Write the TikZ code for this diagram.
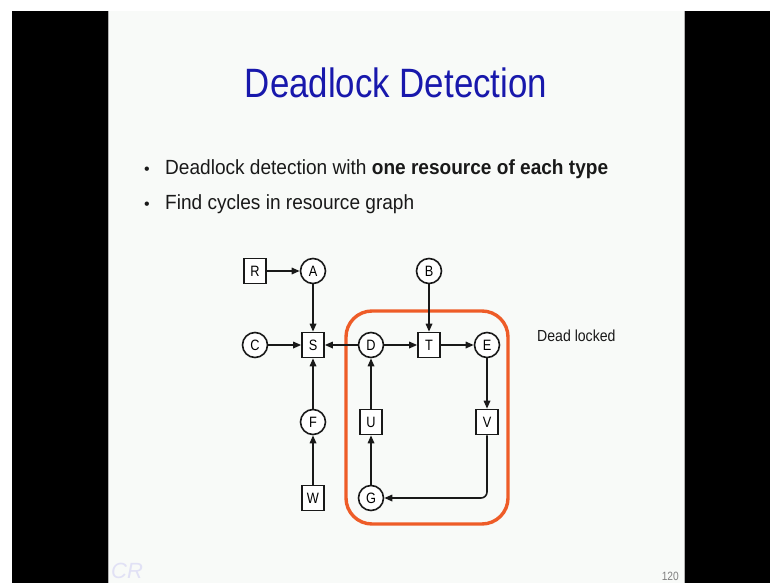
\documentclass[tikz,border=0pt]{standalone}
\usepackage{fontspec}
\setmainfont{Liberation Sans}
\usetikzlibrary{arrows.meta}
\definecolor{slidebg}{RGB}{248,250,248}
\definecolor{titleblue}{RGB}{24,24,172}
\definecolor{boxorange}{RGB}{238,92,40}
\definecolor{txt}{RGB}{25,25,25}
\definecolor{logoc}{RGB}{225,225,245}
\newcommand\lbl[1]{\scalebox{0.85}[1]{\fontsize{15}{15}\selectfont #1}}
\tikzset{
  circ/.style={circle, draw=txt, line width=1.6pt, minimum size=25pt, inner sep=0pt, fill=white},
  sqr/.style={rectangle, draw=txt, line width=1.6pt, minimum width=22pt, minimum height=25pt, inner sep=0pt, fill=white},
  edge/.style={draw=txt, line width=1.6pt, -{Triangle[length=8pt,width=6.5pt]}},
}
\begin{document}
\begin{tikzpicture}[x=1pt,y=-1pt]
\useasboundingbox (0,0) rectangle (770,583);
\fill[white] (0,0) rectangle (770,583);
\fill[black] (12,11) rectangle (108,583);
\fill[black] (685,11) rectangle (770,583);
\fill[slidebg] (108,11) rectangle (685,583);
\draw[gray!60, line width=0.8pt] (108.5,11) -- (108.5,583);
\draw[gray!60, line width=0.8pt] (684.5,11) -- (684.5,583);

% title
\node[anchor=base, text=titleblue, inner sep=0] (title) at (396,98) {\scalebox{0.85}[1]{\fontsize{41}{41}\selectfont Deadlock Detection}};

% bullets
\node[anchor=base, text=txt, inner sep=0] (b1dot) at (147,174) {\fontsize{16}{16}\selectfont •};
\node[anchor=base west, text=txt, inner sep=0] (b1) at (165,174) {\scalebox{0.93}[1]{\fontsize{20.5}{20.5}\selectfont Deadlock detection with \textbf{one resource of each type}}};
\node[anchor=base, text=txt, inner sep=0] (b2dot) at (147,209) {\fontsize{16}{16}\selectfont •};
\node[anchor=base west, text=txt, inner sep=0] (b2) at (165,209) {\scalebox{0.93}[1]{\fontsize{20.5}{20.5}\selectfont Find cycles in resource graph}};

% orange box
\draw[boxorange, line width=3.4pt, rounded corners=26pt] (346,311) rectangle (508,524);

% nodes
\node[sqr]  (R) at (255,271) {\lbl{R}};
\node[circ] (A) at (313,271) {\lbl{A}};
\node[circ] (B) at (429,271) {\lbl{B}};
\node[circ] (C) at (255,345) {\lbl{C}};
\node[sqr]  (S) at (313,345) {\lbl{S}};
\node[circ] (D) at (371,345) {\lbl{D}};
\node[sqr]  (T) at (429,345) {\lbl{T}};
\node[circ] (E) at (487,345) {\lbl{E}};
\node[circ] (F) at (313,422) {\lbl{F}};
\node[sqr]  (U) at (371,422) {\lbl{U}};
\node[sqr]  (V) at (487,422) {\lbl{V}};
\node[sqr]  (W) at (313,498) {\lbl{W}};
\node[circ] (G) at (371,498) {\lbl{G}};

% edges
\draw[edge] (R) -- (A);
\draw[edge] (A) -- (S);
\draw[edge] (C) -- (S);
\draw[edge] (D) -- (S);
\draw[edge] (D) -- (T);
\draw[edge] (B) -- (T);
\draw[edge] (T) -- (E);
\draw[edge] (E) -- (V);
\draw[edge, rounded corners=6pt] (V.south) |- (G.east);
\draw[edge] (G) -- (U);
\draw[edge] (U) -- (D);
\draw[edge] (W) -- (F);
\draw[edge] (F) -- (S);

\node[anchor=base west, text=txt, inner sep=0] (dl) at (537,341) {\scalebox{0.88}[1]{\fontsize{16}{16}\selectfont Dead locked}};

\node[anchor=base east, text=gray, inner sep=0] (pg) at (679,580) {\scalebox{0.85}[1]{\fontsize{12}{12}\selectfont 120}};
\node[anchor=base west, text=logoc, inner sep=0] (logo) at (111,578) {\fontsize{22}{22}\selectfont\itshape CR};
\end{tikzpicture}
\end{document}
